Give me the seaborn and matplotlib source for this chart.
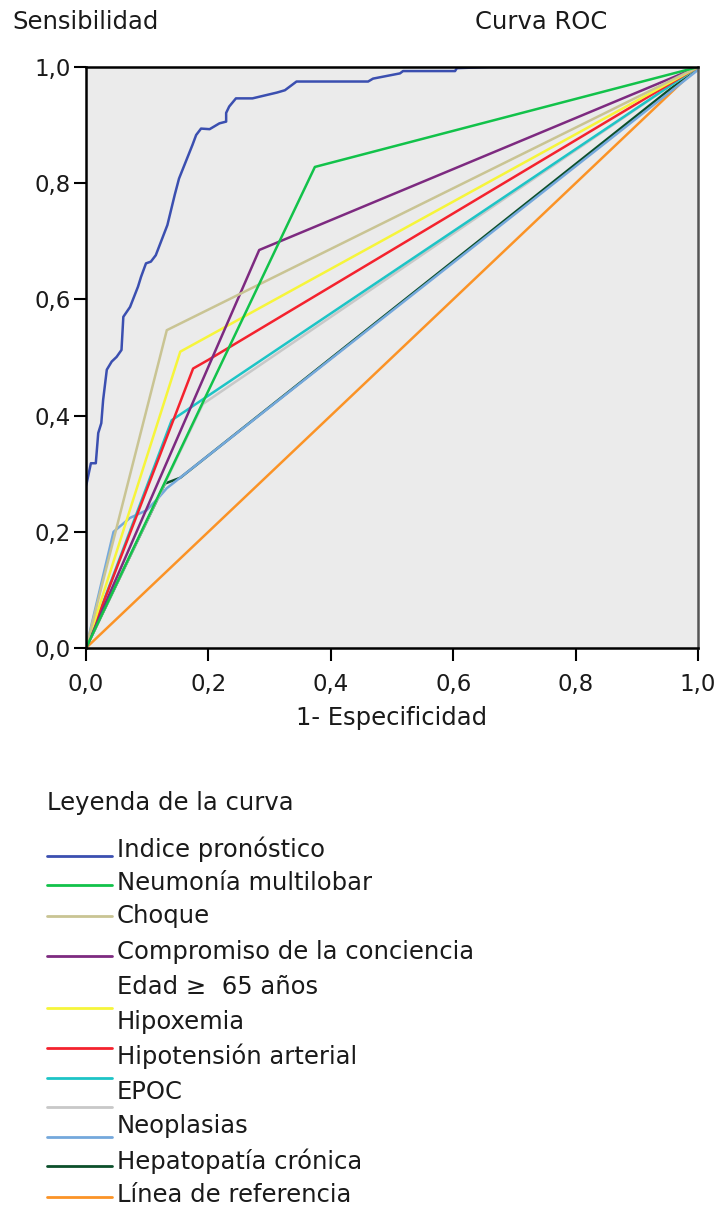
import pandas as pd
import matplotlib.pyplot as plt
from matplotlib.lines import Line2D
import seaborn as sns

# Curve names (legend order) and colours
curvas = ['Indice pronóstico', 'Neumonía multilobar', 'Choque',
          'Compromiso de la conciencia', 'Edad \u2265  65 años', 'Hipoxemia',
          'Hipotensión arterial', 'EPOC', 'Neoplasias', 'Hepatopatía crónica',
          'Línea de referencia']
colores = ['#3b4fb0', '#12c24a', '#c9c493', '#7d2a80', '#f6f53a', '#f4222e',
           '#1dc4c6', '#c8c8c8', '#74a8dc', '#0b4f2a', '#fb9326']

# ROC points (1 - especificidad, sensibilidad)
indice_x = [0.0, 0.0, 0.008, 0.016, 0.02, 0.025, 0.028, 0.034, 0.042, 0.05, 0.058,
            0.061, 0.072, 0.085, 0.09, 0.098, 0.106, 0.114, 0.133, 0.145, 0.152,
            0.163, 0.174, 0.18, 0.188, 0.202, 0.218, 0.229, 0.229, 0.234, 0.245,
            0.272, 0.288, 0.312, 0.325, 0.344, 0.461, 0.469, 0.513, 0.518, 0.603,
            0.606, 0.66, 1.0]
indice_y = [0.0, 0.278, 0.318, 0.318, 0.37, 0.387, 0.427, 0.479, 0.493, 0.501, 0.513,
            0.57, 0.587, 0.622, 0.639, 0.662, 0.665, 0.676, 0.728, 0.78, 0.808,
            0.837, 0.866, 0.883, 0.894, 0.893, 0.903, 0.906, 0.921, 0.932, 0.946,
            0.946, 0.95, 0.956, 0.96, 0.975, 0.975, 0.98, 0.989, 0.993, 0.993,
            0.998, 1.0, 1.0]
neumonia_x = [0.0, 0.374, 1.0]
neumonia_y = [0.0, 0.828, 1.0]
choque_x = [0.0, 0.132, 1.0]
choque_y = [0.0, 0.547, 1.0]
compromiso_x = [0.0, 0.283, 1.0]
compromiso_y = [0.0, 0.685, 1.0]
edad_x = [0.0, 0.154, 1.0]
edad_y = [0.0, 0.51, 1.0]
hipoxemia_x = [0.0, 0.175, 0.2, 1.0]
hipoxemia_y = [0.0, 0.481, 0.496, 1.0]
hipotension_x = [0.0, 0.14, 1.0]
hipotension_y = [0.0, 0.392, 1.0]
epoc_x = [0.0, 0.191, 1.0]
epoc_y = [0.0, 0.42, 1.0]
neoplasias_x = [0.0, 0.045, 0.072, 0.099, 0.118, 0.132, 1.0]
neoplasias_y = [0.0, 0.2, 0.224, 0.237, 0.258, 0.275, 0.995]
hepatopatia_x = [0.0, 0.129, 0.154, 1.0]
hepatopatia_y = [0.0, 0.283, 0.293, 1.0]
referencia_x = [0.0, 1.0]
referencia_y = [0.0, 1.0]

series_x = [indice_x, neumonia_x, choque_x, compromiso_x, edad_x, hipoxemia_x,
            hipotension_x, epoc_x, neoplasias_x, hepatopatia_x, referencia_x]
series_y = [indice_y, neumonia_y, choque_y, compromiso_y, edad_y, hipoxemia_y,
            hipotension_y, epoc_y, neoplasias_y, hepatopatia_y, referencia_y]

ticks = [0.0, 0.2, 0.4, 0.6, 0.8, 1.0]
tick_labels = ['0,0', '0,2', '0,4', '0,6', '0,8', '1,0']

rows = []
for name, xs, ys in zip(curvas, series_x, series_y):
    for x, y in zip(xs, ys):
        rows.append({'curva': name, 'fpr': x, 'tpr': y})
df = pd.DataFrame(rows)

sns.set_theme(style='white')
plt.rcParams['font.family'] = ['DejaVu Sans']

W, H = 718, 1207
fig = plt.figure(figsize=(W / 100, H / 100), dpi=100)
ax = fig.add_axes([86 / W, 1 - 648 / H, 612 / W, 581 / H])
ax.set_facecolor('#ebebeb')

# draw reference line first, Indice last so it stays on top
draw_order = curvas[::-1]
sns.lineplot(data=df, x='fpr', y='tpr', hue='curva', hue_order=draw_order,
             palette=dict(zip(curvas, colores)), sort=False, estimator=None,
             linewidth=1.8, legend=False, ax=ax)

ax.set_xlim(0, 1)
ax.set_ylim(0, 1)
ax.set_xticks(ticks)
ax.set_xticklabels(tick_labels)
ax.set_yticks(ticks)
ax.set_yticklabels(tick_labels)
ax.tick_params(axis='both', direction='out', length=9, width=1.5, color='black',
               labelsize=16.5, labelcolor='#1a1a1a', left=True, bottom=True)
ax.tick_params(axis='x', pad=9)
ax.tick_params(axis='y', pad=2)
ax.set_xlabel('')
ax.set_ylabel('')
for side in ['left', 'top', 'bottom', 'right']:
    ax.spines[side].set_color('black')
    ax.spines[side].set_linewidth(1.8)
    ax.spines[side].set_visible(True)
ax.spines['right'].set_color('#555555')

txt = dict(color='#1a1a1a', fontsize=17.5)
fig.text(12 / W, 1 - 22 / H, 'Sensibilidad', ha='left', va='center', **txt)
fig.text(541 / W, 1 - 22 / H, 'Curva ROC', ha='center', va='center', **txt)
fig.text(392 / W, 1 - 718 / H, '1- Especificidad', ha='center', va='center', **txt)
fig.text(47 / W, 1 - 803 / H, 'Leyenda de la curva', ha='left', va='center', **txt)

# legend drawn by hand (SPSS places the swatches slightly off the text rows)
text_rows = [849, 883, 916, 952, 987, 1022, 1056, 1092, 1126, 1161, 1195]
line_rows = [856, 885, 916, 956, 1008, 1048, 1078, 1107, 1137, 1166, 1197]
for name, col, ty, ly in zip(curvas, colores, text_rows, line_rows):
    fig.add_artist(Line2D([47 / W, 112 / W], [1 - ly / H, 1 - ly / H],
                          color=col, linewidth=2, transform=fig.transFigure))
    fig.text(117 / W, 1 - ty / H, name, ha='left', va='center', **txt)

fig.savefig('out.png', dpi=100, facecolor='white')
